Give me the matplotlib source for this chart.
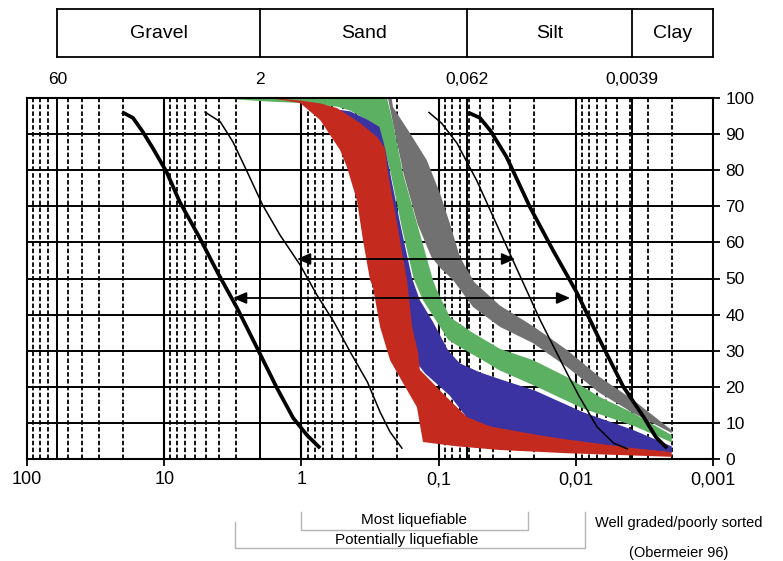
import matplotlib
matplotlib.use('Agg')
import matplotlib.pyplot as plt
from matplotlib.ticker import NullLocator
from matplotlib.transforms import blended_transform_factory

plt.rcParams['font.family'] = ['Liberation Sans Narrow', 'Liberation Sans', 'DejaVu Sans']

# grain size (mm) vs percent passing
thick_left_x = [20.3, 16.9, 14.3, 12.1, 9.6, 7.7, 5.5, 4.1, 2.94, 2.1, 1.51, 1.15, 0.91, 0.73]
thick_left_y = [96.1, 94.5, 90.6, 86.1, 79.5, 71.2, 61.2, 51.8, 41.8, 30.7, 19.7, 11.4, 6.6, 3.0]
thin_left_x = [5.04, 3.9, 3.15, 2.48, 1.92, 1.43, 1.02, 0.77, 0.58, 0.44, 0.33, 0.267, 0.226, 0.185]
thin_left_y = [96.1, 93.4, 87.8, 79.5, 70.4, 62.0, 53.7, 45.4, 38.0, 29.6, 21.3, 13.0, 7.5, 3.0]
thin_right_x = [0.1175, 0.095, 0.0735, 0.0525, 0.0287, 0.0182, 0.0116, 0.0094, 0.0070, 0.0053, 0.0042]
thin_right_y = [96.0, 93.0, 87.5, 77.0, 55.0, 38.5, 23.8, 17.2, 8.9, 4.4, 2.8]
thick_right_x = [0.061, 0.05, 0.042, 0.032, 0.0216, 0.0147, 0.0098, 0.0067, 0.0045, 0.0032, 0.0026, 0.00216]
thick_right_y = [96.0, 94.5, 91.0, 83.7, 69.8, 57.9, 46.0, 33.0, 20.0, 11.6, 6.0, 3.0]

# bands: coarse (left/lower) edge and fine (right/upper) edge
gray_coarse_x = [0.234, 0.215, 0.18, 0.142, 0.113, 0.0977, 0.0785, 0.0561, 0.0357, 0.0205, 0.0116, 0.0067, 0.0038, 0.002]
gray_coarse_y = [100, 93, 79, 65, 56, 53, 49.6, 42.1, 36.6, 32.1, 25.5, 18.3, 12.7, 7.2]
gray_fine_x = [0.234, 0.22, 0.215, 0.162, 0.122, 0.098, 0.083, 0.07, 0.055, 0.0357, 0.0205, 0.0116, 0.0067, 0.0038, 0.002]
gray_fine_y = [100, 100, 97.5, 90.3, 82.8, 73.7, 65.4, 56, 49, 42.5, 36.8, 30.2, 22.7, 16.3, 8.0]

green_coarse_x = [3.9, 2.5, 1.7, 1.0, 0.55, 0.44, 0.3, 0.25, 0.22, 0.185, 0.152, 0.13, 0.105, 0.085, 0.07, 0.05, 0.0357, 0.0205, 0.0089, 0.0038, 0.002]
green_coarse_y = [100, 99.4, 99.0, 98.6, 97.6, 96.5, 93, 87, 78, 64, 50, 44, 38.5, 33, 31, 27.8, 24.5, 20.5, 14, 9.2, 4.6]
green_fine_x = [3.9, 0.238, 0.215, 0.182, 0.144, 0.110, 0.103, 0.0826, 0.0561, 0.0357, 0.0205, 0.0116, 0.0067, 0.0038, 0.002]
green_fine_y = [100, 100, 93.1, 79.2, 65.4, 49.6, 46.8, 39.3, 34.9, 30.5, 27.4, 22.7, 17.2, 12.7, 6.6]

blue_coarse_x = [0.9, 0.5, 0.3, 0.25, 0.2, 0.16, 0.14, 0.126, 0.083, 0.062, 0.042, 0.018, 0.0116, 0.0038, 0.002]
blue_coarse_y = [98, 88, 70, 55, 40, 30, 26, 23.8, 17.6, 11.4, 8.8, 6.3, 5.2, 2.8, 1.8]
blue_fine_x = [0.9, 0.6, 0.44, 0.33, 0.27, 0.245, 0.225, 0.19, 0.156, 0.137, 0.11, 0.085, 0.07, 0.05, 0.035, 0.02, 0.0089, 0.0038, 0.002]
blue_fine_y = [98, 97.0, 96.3, 94, 92, 86, 79, 65, 50, 44, 38, 30, 26.5, 24, 22, 19, 13, 8, 3.5]

red_coarse_x = [1.69, 1.02, 0.73, 0.523, 0.466, 0.394, 0.356, 0.316, 0.301, 0.267, 0.226, 0.182, 0.144, 0.130, 0.073, 0.036, 0.0116, 0.002]
red_coarse_y = [100, 98.6, 93.9, 85.6, 80.9, 71.7, 60.7, 49.6, 47.6, 36.6, 27.4, 21.1, 14.4, 4.7, 3.5, 2.5, 1.6, 0.6]
red_fine_x = [1.69, 1.02, 0.73, 0.55, 0.374, 0.281, 0.246, 0.234, 0.201, 0.170, 0.156, 0.141, 0.137, 0.12, 0.095, 0.062, 0.042, 0.018, 0.0116, 0.0038, 0.002]
red_fine_y = [100, 99.3, 98.5, 97.2, 93.1, 89.2, 86.1, 79.2, 65.4, 49.6, 36.6, 29.4, 24.7, 22.5, 18.5, 11.6, 9.0, 6.5, 5.4, 3.0, 1.9]

# arrows: (y, left x, right x)
arrow_upper = (55.4, 1.076, 0.0277)
arrow_lower = (44.6, 3.15, 0.011)

decades = [100, 10, 1, 0.1, 0.01, 0.001]
decade_labels = ['100', '10', '1', '0,1', '0,01', '0,001']
pct_ticks = [0, 10, 20, 30, 40, 50, 60, 70, 80, 90, 100]
class_edges = [60, 2, 0.062, 0.0039, 0.001]
class_names = ['Gravel', 'Sand', 'Silt', 'Clay']
edge_labels = ['60', '2', '0,062', '0,0039']


def band(ax, cx, cy, fx, fy, color):
    xs = list(cx) + list(fx)[::-1]
    ys = list(cy) + list(fy)[::-1]
    ax.fill(xs, ys, color=color, lw=0, zorder=2)


fig = plt.figure(figsize=(7.83, 5.61), dpi=100)
ax = fig.add_axes([27 / 783, 1 - 459 / 561, 686 / 783, 361 / 561])
ax.set_xscale('log')
ax.set_xlim(100, 0.001)
ax.set_ylim(0, 100)

# grid
for d in decades[1:]:
    for m in range(2, 10):
        v = m * d
        if v in (60, 2):
            ax.axvline(v, color='black', lw=1.4, zorder=1)
        else:
            ax.axvline(v, color='black', lw=1.3, ls=(0, (2.5, 1.3)), zorder=1)
for d in decades[1:-1]:
    ax.axvline(d, color='black', lw=1.5, zorder=1)
for v in (0.062, 0.0039):
    ax.axvline(v, color='black', lw=1.4, zorder=1)
for p in pct_ticks[1:-1]:
    ax.axhline(p, color='black', lw=1.4, zorder=1)

band(ax, gray_coarse_x, gray_coarse_y, gray_fine_x, gray_fine_y, '#717171')
band(ax, green_coarse_x, green_coarse_y, green_fine_x, green_fine_y, '#5cb062')
band(ax, blue_coarse_x, blue_coarse_y, blue_fine_x, blue_fine_y, '#3c33a3')
band(ax, red_coarse_x, red_coarse_y, red_fine_x, red_fine_y, '#c42a1e')

ax.plot(thick_left_x, thick_left_y, color='black', lw=2.7, zorder=3, solid_capstyle='butt')
ax.plot(thick_right_x, thick_right_y, color='black', lw=2.7, zorder=3, solid_capstyle='butt')
ax.plot(thin_left_x, thin_left_y, color='black', lw=1.1, zorder=3)
ax.plot(thin_right_x, thin_right_y, color='black', lw=1.1, zorder=3)

for y, xl, xr in (arrow_upper, arrow_lower):
    ax.annotate('', xy=(xl, y), xytext=(xr, y),
                arrowprops=dict(arrowstyle='<|-|>,head_length=0.8,head_width=0.35',
                                color='black', lw=1.3, shrinkA=0, shrinkB=0),
                zorder=4)

for s in ax.spines.values():
    s.set_linewidth(1.5)
ax.set_xticks(decades)
ax.set_xticklabels(decade_labels)
ax.xaxis.set_minor_locator(NullLocator())
ax.tick_params(axis='x', which='major', direction='out', length=5, width=1.3, labelsize=13, pad=4)
ax.yaxis.tick_right()
ax.set_yticks(pct_ticks)
ax.tick_params(axis='y', direction='out', length=5, width=1.3, labelsize=12.5, pad=4)

# size class table above the chart
tr = blended_transform_factory(ax.transData, fig.transFigure)
box_top, box_bot = 1 - 8.5 / 561, 1 - 56.5 / 561
ax.plot([class_edges[0], class_edges[-1]], [box_top, box_top], color='black', lw=1.3, transform=tr, clip_on=False)
ax.plot([class_edges[0], class_edges[-1]], [box_bot, box_bot], color='black', lw=1.3, transform=tr, clip_on=False)
for e in class_edges:
    ax.plot([e, e], [box_bot, box_top], color='black', lw=1.3, transform=tr, clip_on=False)
for i, name in enumerate(class_names):
    xc = (class_edges[i] * class_edges[i + 1]) ** 0.5
    ax.text(xc, 1 - 33 / 561, name, transform=tr, ha='center', va='center', fontsize=14)
for e, lab in zip(class_edges[:-1], edge_labels):
    ax.text(e, 1 - 79 / 561, lab, transform=tr, ha='center', va='center', fontsize=12.5)

# liquefiable ranges below
gc = '#b5b5b5'
ax.plot([1.0, 1.0, 0.0223, 0.0223], [0.087, 0.055, 0.055, 0.087], color=gc, lw=1, transform=tr, clip_on=False)
ax.plot([3.05, 3.05, 0.0086, 0.0086], [0.070, 0.023, 0.023, 0.087], color=gc, lw=1, transform=tr, clip_on=False)
ax.text(0.151, 0.073, 'Most liquefiable', transform=tr, ha='center', va='center', fontsize=11)
ax.text(0.170, 0.037, 'Potentially liquefiable', transform=tr, ha='center', va='center', fontsize=11)
ax.text(0.00177, 0.068, 'Well graded/poorly sorted', transform=tr, ha='center', va='center', fontsize=10.5)
ax.text(0.00177, 0.014, '(Obermeier 96)', transform=tr, ha='center', va='center', fontsize=10.5)

fig.savefig('out.png', dpi=100)
